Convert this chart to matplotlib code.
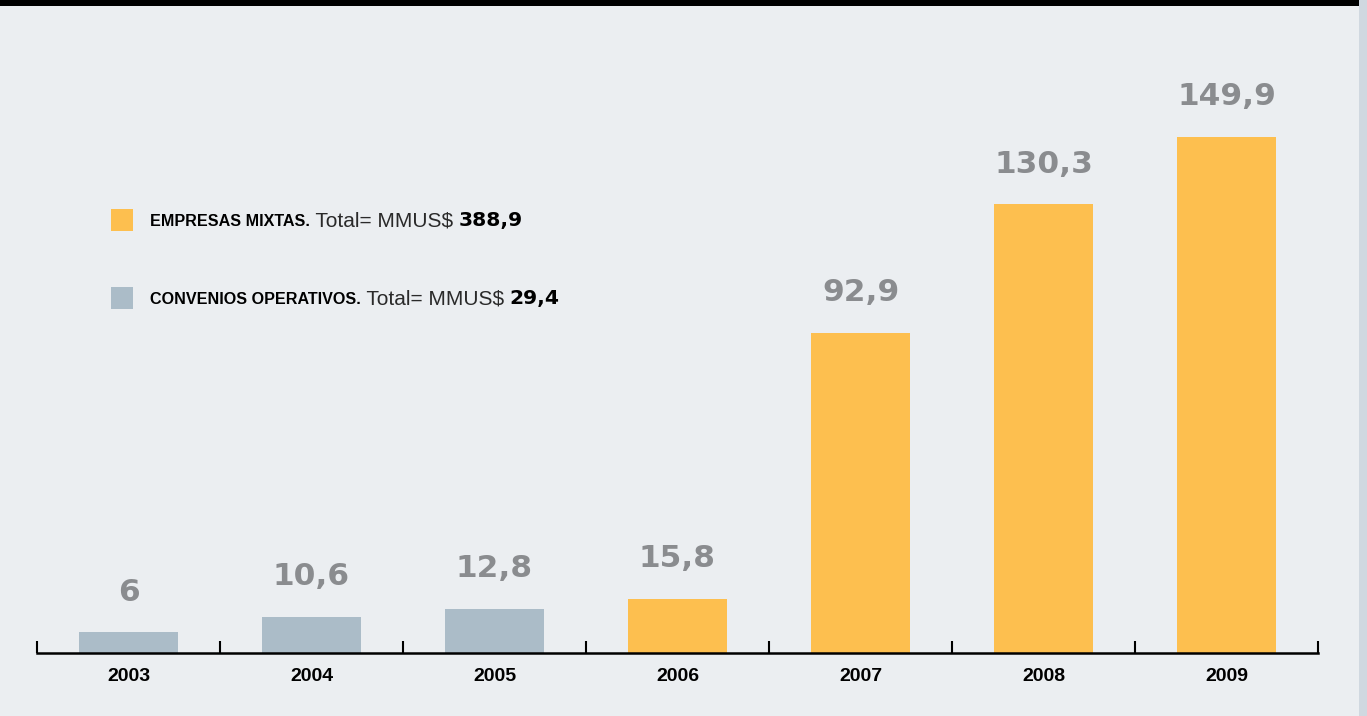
import matplotlib
matplotlib.use("Agg")
import matplotlib.pyplot as plt
from matplotlib.patches import Rectangle

years = ["2003", "2004", "2005", "2006", "2007", "2008", "2009"]
values = [6, 10.6, 12.8, 15.8, 92.9, 130.3, 149.9]
value_labels = ["6", "10,6", "12,8", "15,8", "92,9", "130,3", "149,9"]
series = ["CO", "CO", "CO", "EM", "EM", "EM", "EM"]
legend_names = ["EMPRESAS MIXTAS.", "CONVENIOS OPERATIVOS."]
legend_totals = ["388,9", "29,4"]

BG = "#ebeef1"
ORANGE = "#fdbf4f"
GRAY = "#abbcc8"
LABEL_GRAY = "#8a8c8f"
colors = {"EM": ORANGE, "CO": GRAY}

W, H = 1367, 716
fig = plt.figure(figsize=(W / 100, H / 100), dpi=100)
fig.patch.set_facecolor(BG)

# top black band and right strip
fig.add_artist(Rectangle((0, 1 - 6 / H), 1359 / W, 6 / H, transform=fig.transFigure,
                         facecolor="black", edgecolor="none"))
fig.add_artist(Rectangle((1359 / W, 0), 8 / W, 1, transform=fig.transFigure,
                         facecolor="#d0d8e0", edgecolor="none"))

ax_left, ax_right = 37, 1318
ax_bottom_px, ax_top_px = 653, 6
ax = fig.add_axes([ax_left / W, (H - ax_bottom_px) / H, (ax_right - ax_left) / W,
                   (ax_bottom_px - ax_top_px) / H])
ax.set_facecolor("none")
ax.set_xlim(-0.5, len(years) - 0.5)
ax.set_ylim(0, (ax_bottom_px - ax_top_px) / 3.443)

x = list(range(len(years)))
ax.bar(x, values, width=0.54, color=[colors[s] for s in series], zorder=2)

for xi, v, lab in zip(x, values, value_labels):
    ax.annotate(lab, xy=(xi, v), xytext=(0, 29), textcoords="offset points",
                ha="center", va="center", fontsize=22.5, fontweight="bold",
                family="DejaVu Sans", color=LABEL_GRAY)

for side in ["top", "right", "left"]:
    ax.spines[side].set_visible(False)
ax.spines["bottom"].set_linewidth(1.8)
ax.spines["bottom"].set_zorder(3)
ax.set_yticks([])
ax.set_xticks(x)
ax.set_xticklabels(years, fontsize=14, fontweight="bold", family="Liberation Sans")
ax.tick_params(axis="x", which="major", length=0, pad=11)
ax.set_xticks([i - 0.5 for i in range(len(years) + 1)], minor=True)
ax.tick_params(axis="x", which="minor", direction="in", length=8.5, width=1.5, color="black")

# legend
leg_y = [220, 298]  # centers in px from top
leg_colors = [ORANGE, GRAY]
for name, tot, yc, c in zip(legend_names, legend_totals, leg_y, leg_colors):
    fig.add_artist(Rectangle((111 / W, (H - yc - 11) / H), 22 / W, 22 / H,
                             transform=fig.transFigure, facecolor=c, edgecolor="none"))
    t1 = fig.text(150 / W, (H - yc - 6) / H, name, fontsize=11.6, fontweight="bold",
                  family="Liberation Sans", color="black", va="baseline", ha="left")
    t2 = fig.text(0, 0, " Total= MMUS$ ", fontsize=15, family="Liberation Sans",
                  color="#2a2a2a", va="baseline", ha="left")
    t3 = fig.text(0, 0, tot, fontsize=14.6, fontweight="bold", family="DejaVu Sans",
                  color="black", va="baseline", ha="left")
    fig.canvas.draw()
    r = fig.canvas.get_renderer()
    bb1 = t1.get_window_extent(r)
    t2.set_position((bb1.x1 / W, (H - yc - 6) / H))
    fig.canvas.draw()
    bb2 = t2.get_window_extent(r)
    t3.set_position((bb2.x1 / W, (H - yc - 6) / H))

fig.savefig("out.png", dpi=100, facecolor=BG)
